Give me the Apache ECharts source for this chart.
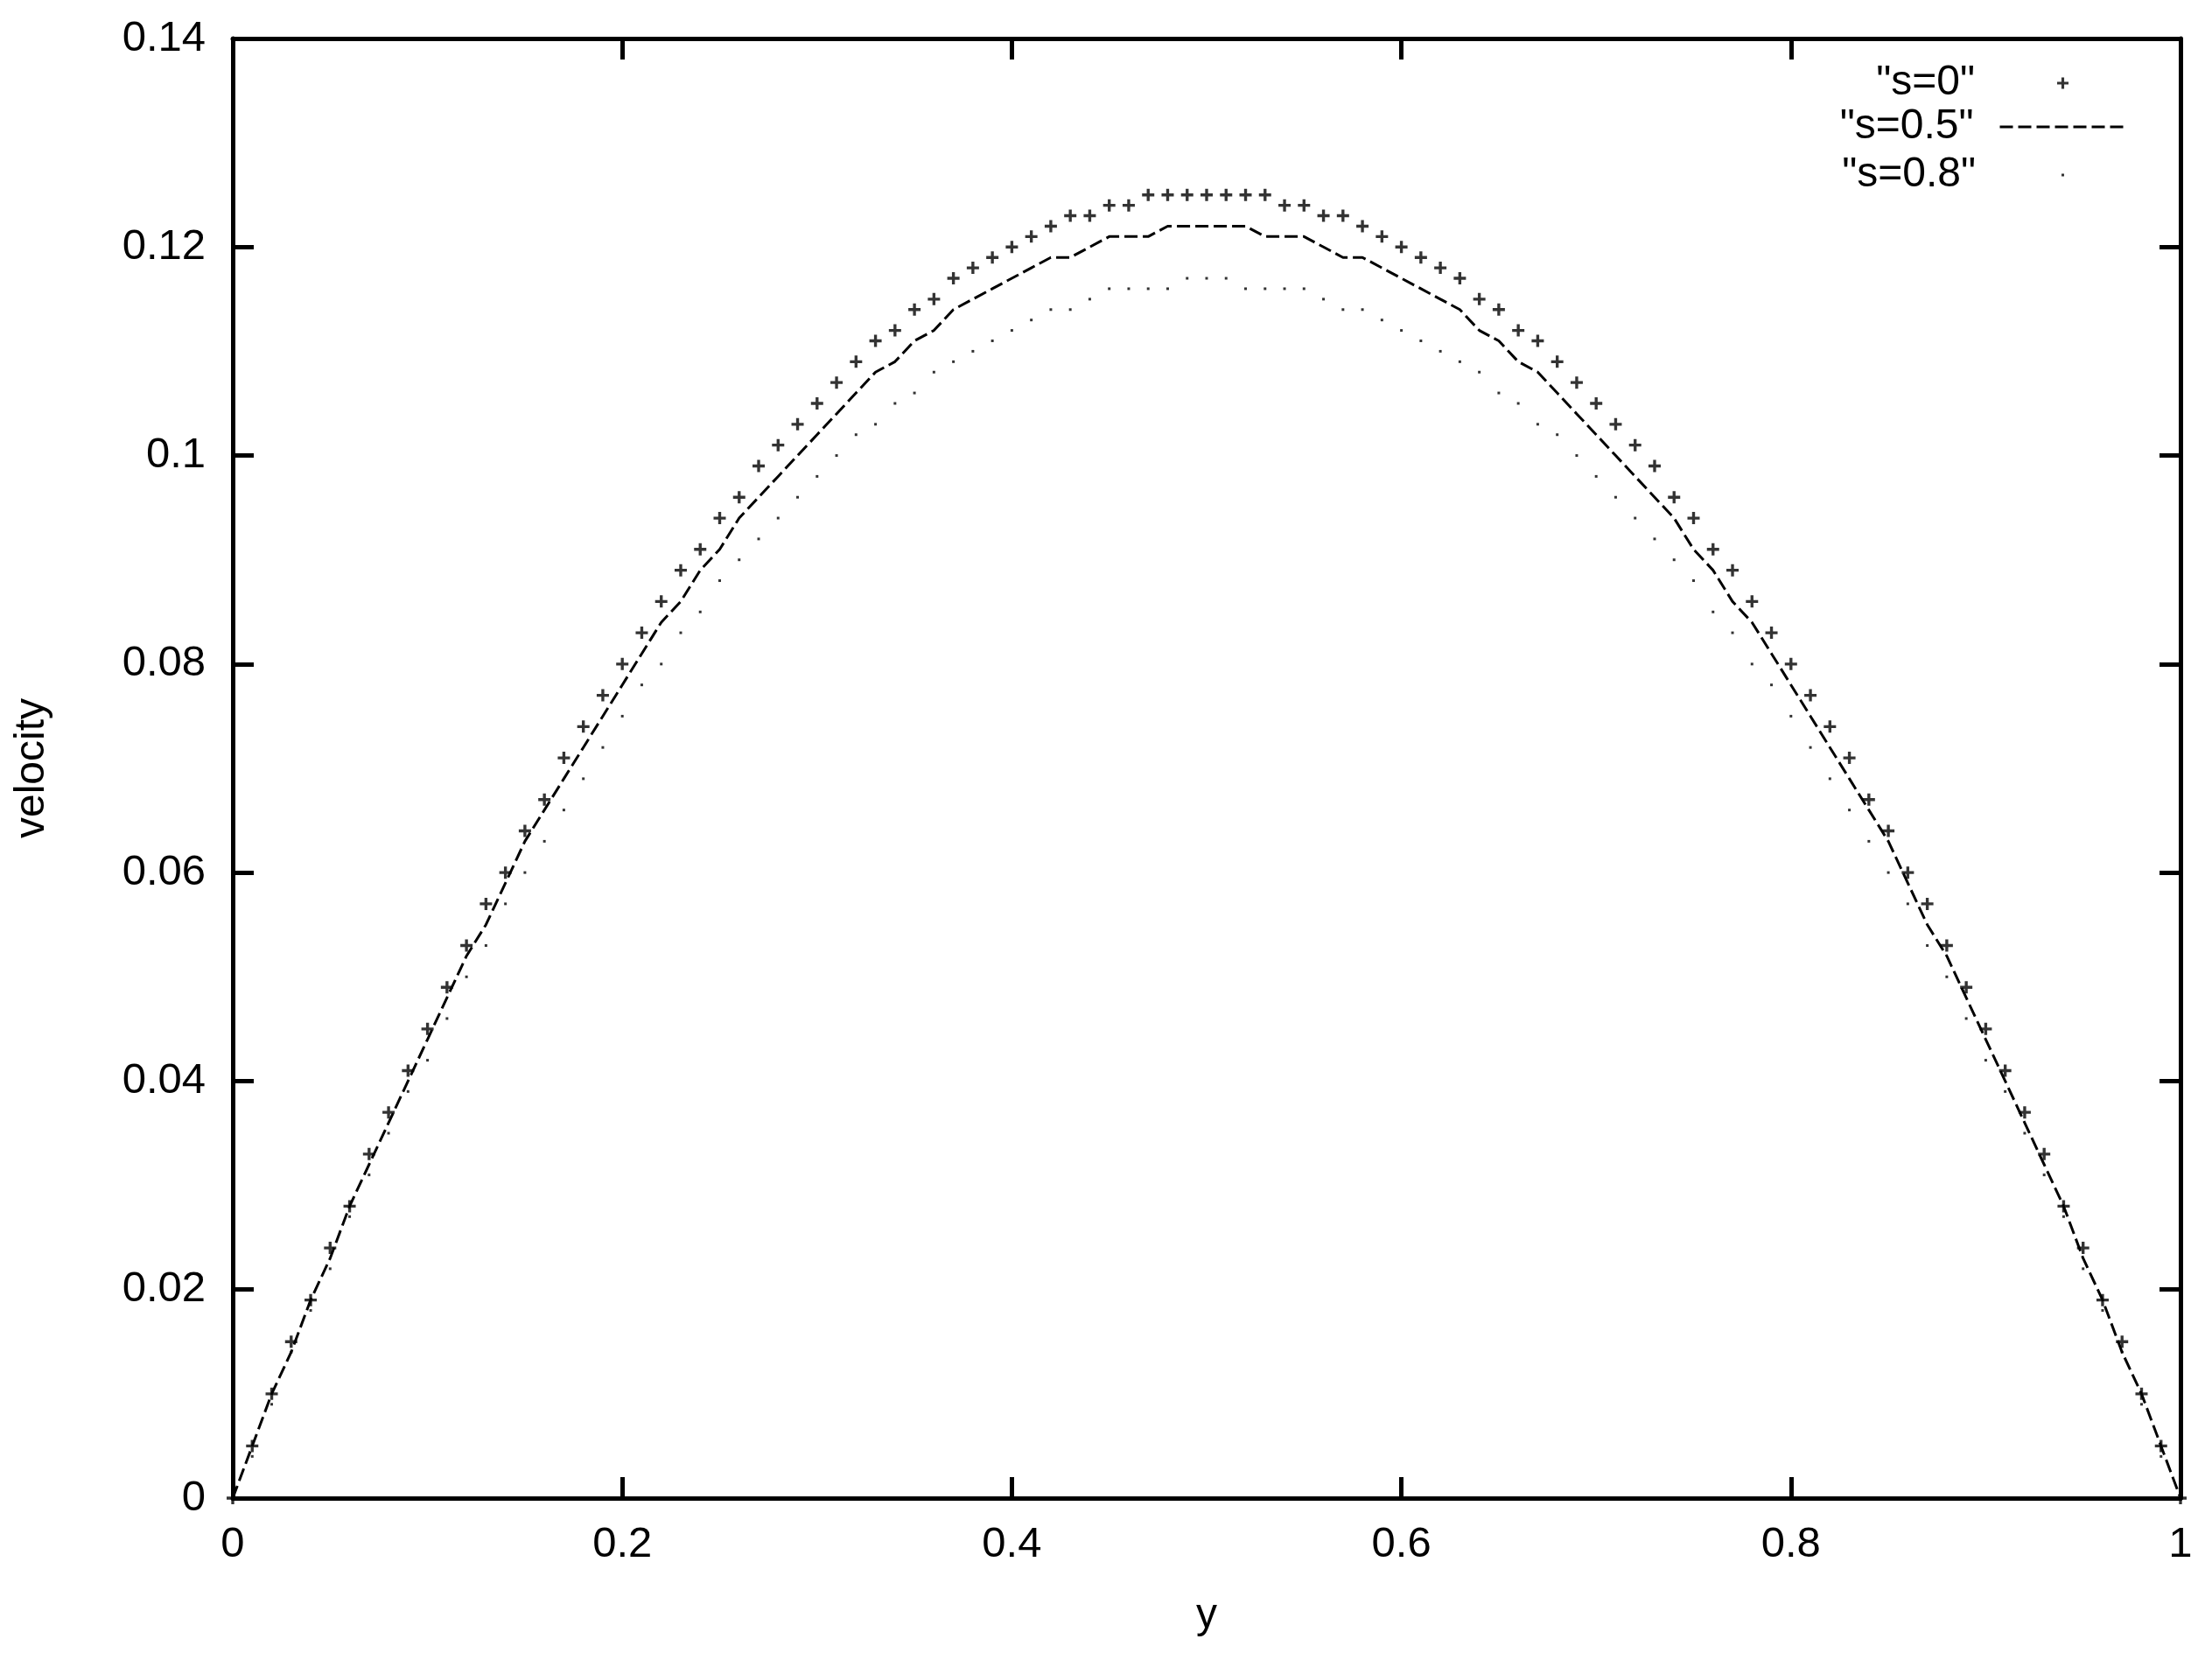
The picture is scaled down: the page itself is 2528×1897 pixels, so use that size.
<!DOCTYPE html>
<html>
<head>
<meta charset="utf-8">
<style>
  html, body { margin: 0; padding: 0; background: #ffffff; }
  #chart { width: 2528px; height: 1897px; }
</style>
<script src="https://cdn.jsdelivr.net/npm/echarts@6/dist/echarts.min.js"></script>
</head>
<body>
<div id="chart"></div>
<script>
// ---- data ----
const yPositions = [
  0.00,0.01,0.02,0.03,0.04,0.05,0.06,0.07,0.08,0.09,
  0.10,0.11,0.12,0.13,0.14,0.15,0.16,0.17,0.18,0.19,
  0.20,0.21,0.22,0.23,0.24,0.25,0.26,0.27,0.28,0.29,
  0.30,0.31,0.32,0.33,0.34,0.35,0.36,0.37,0.38,0.39,
  0.40,0.41,0.42,0.43,0.44,0.45,0.46,0.47,0.48,0.49,
  0.50,0.51,0.52,0.53,0.54,0.55,0.56,0.57,0.58,0.59,
  0.60,0.61,0.62,0.63,0.64,0.65,0.66,0.67,0.68,0.69,
  0.70,0.71,0.72,0.73,0.74,0.75,0.76,0.77,0.78,0.79,
  0.80,0.81,0.82,0.83,0.84,0.85,0.86,0.87,0.88,0.89,
  0.90,0.91,0.92,0.93,0.94,0.95,0.96,0.97,0.98,0.99,
  1.00
];

const velocityS0 = [
  0,
  0.005,0.010,0.015,0.019,0.024,0.028,0.033,0.037,0.041,0.045,
  0.049,0.053,0.057,0.060,0.064,0.067,0.071,0.074,0.077,0.080,
  0.083,0.086,0.089,0.091,0.094,0.096,0.099,0.101,0.103,0.105,
  0.107,0.109,0.111,0.112,0.114,0.115,0.117,0.118,0.119,0.120,
  0.121,0.122,0.123,0.123,0.124,0.124,0.125,0.125,0.125,0.125,
  0.125,0.125,0.125,0.124,0.124,0.123,0.123,0.122,0.121,0.120,
  0.119,0.118,0.117,0.115,0.114,0.112,0.111,0.109,0.107,0.105,
  0.103,0.101,0.099,0.096,0.094,0.091,0.089,0.086,0.083,0.080,
  0.077,0.074,0.071,0.067,0.064,0.060,0.057,0.053,0.049,0.045,
  0.041,0.037,0.033,0.028,0.024,0.019,0.015,0.010,0.005,0
];

const velocityS05 = [
  0,
  0.005,0.010,0.014,0.019,0.023,0.028,0.032,0.036,0.040,0.044,
  0.048,0.052,0.055,0.059,0.063,0.066,0.069,0.072,0.075,0.078,
  0.081,0.084,0.086,0.089,0.091,0.094,0.096,0.098,0.100,0.102,
  0.104,0.106,0.108,0.109,0.111,0.112,0.114,0.115,0.116,0.117,
  0.118,0.119,0.119,0.120,0.121,0.121,0.121,0.122,0.122,0.122,
  0.122,0.122,0.121,0.121,0.121,0.120,0.119,0.119,0.118,0.117,
  0.116,0.115,0.114,0.112,0.111,0.109,0.108,0.106,0.104,0.102,
  0.100,0.098,0.096,0.094,0.091,0.089,0.086,0.084,0.081,0.078,
  0.075,0.072,0.069,0.066,0.063,0.059,0.055,0.052,0.048,0.044,
  0.040,0.036,0.032,0.028,0.023,0.019,0.014,0.010,0.005,0
];

const velocityS08 = [
  0,
  0.004,0.009,0.014,0.018,0.022,0.027,0.031,0.035,0.039,0.042,
  0.046,0.050,0.053,0.057,0.060,0.063,0.066,0.069,0.072,0.075,
  0.078,0.080,0.083,0.085,0.088,0.090,0.092,0.094,0.096,0.098,
  0.100,0.102,0.103,0.105,0.106,0.108,0.109,0.110,0.111,0.112,
  0.113,0.114,0.114,0.115,0.116,0.116,0.116,0.116,0.117,0.117,
  0.117,0.116,0.116,0.116,0.116,0.115,0.114,0.114,0.113,0.112,
  0.111,0.110,0.109,0.108,0.106,0.105,0.103,0.102,0.100,0.098,
  0.096,0.094,0.092,0.090,0.088,0.085,0.083,0.080,0.078,0.075,
  0.072,0.069,0.066,0.063,0.060,0.057,0.053,0.050,0.046,0.042,
  0.039,0.035,0.031,0.027,0.022,0.018,0.014,0.009,0.004,0
];

const seriesNames = ['"s=0"', '"s=0.5"', '"s=0.8"'];
const xAxisName = 'y';
const yAxisName = 'velocity';

// ---- chart ----
const FONT = 'Liberation Sans';
const plusPath = 'path://M3.8,0H6.2V3.8H10V6.2H6.2V10H3.8V6.2H0V3.8H3.8Z';
const pair = (vals) => yPositions.map((x, i) => [x, vals[i]]);

const axisLineStyle = () => ({ show: true, onZero: false, lineStyle: { color: '#000', width: 5 } });
const tickStyle = () => ({ show: true, inside: true, length: 24, lineStyle: { color: '#000', width: 5 } });
const labelStyle = { color: '#000', fontSize: 49, fontFamily: FONT };

const legendText = { color: '#000', fontSize: 48, fontFamily: FONT, lineHeight: 50 };

const chart = echarts.init(document.getElementById('chart'), null, { renderer: 'canvas' });
chart.setOption({
  animation: false,
  backgroundColor: '#ffffff',
  grid: { left: 266, right: 36, top: 44, bottom: 185, containLabel: false },
  legend: [
    {
      data: [{ name: seriesNames[0], icon: plusPath }],
      orient: 'vertical', align: 'right', padding: 0,
      right: 164, top: 65, itemWidth: 13, itemHeight: 13,
      selectedMode: false,
      textStyle: Object.assign({}, legendText, { padding: [10, 89, 0, 0] })
    },
    {
      data: [{ name: seriesNames[1] }],
      orient: 'vertical', align: 'right', padding: 0,
      right: 98, top: 112, itemWidth: 143, itemHeight: 14,
      selectedMode: false,
      itemStyle: { opacity: 0 },
      lineStyle: { color: '#000', width: 3, type: [15, 6] },
      textStyle: Object.assign({}, legendText, { padding: [16, 25, 0, 0] })
    },
    {
      data: [{ name: seriesNames[2], icon: 'rect' }],
      orient: 'vertical', align: 'right', padding: 0,
      right: 169, top: 170, itemWidth: 3, itemHeight: 3,
      selectedMode: false,
      textStyle: Object.assign({}, legendText, { padding: [10, 93, 0, 0] })
    }
  ],
  xAxis: [
    {
      type: 'value', position: 'bottom', min: 0, max: 1, interval: 0.2,
      axisLine: axisLineStyle(), axisTick: tickStyle(), splitLine: { show: false },
      axisLabel: Object.assign({ margin: 29 }, labelStyle),
      name: xAxisName, nameLocation: 'middle', nameGap: 111,
      nameTextStyle: { color: '#000', fontSize: 48, fontFamily: FONT }
    },
    {
      type: 'value', position: 'top', min: 0, max: 1, interval: 0.2,
      axisLine: axisLineStyle(), axisTick: tickStyle(), splitLine: { show: false },
      axisLabel: { show: false }
    }
  ],
  yAxis: [
    {
      type: 'value', position: 'left', min: 0, max: 0.14, interval: 0.02,
      axisLine: axisLineStyle(), axisTick: tickStyle(), splitLine: { show: false },
      axisLabel: Object.assign({ margin: 31, padding: [6, 0, 0, 0] }, labelStyle),
      name: yAxisName, nameLocation: 'middle', nameGap: 205, nameRotate: 90,
      nameTextStyle: { color: '#000', fontSize: 48, fontFamily: FONT }
    },
    {
      type: 'value', position: 'right', min: 0, max: 0.14, interval: 0.02,
      axisLine: axisLineStyle(), axisTick: tickStyle(), splitLine: { show: false },
      axisLabel: { show: false }
    }
  ],
  series: [
    {
      name: seriesNames[0], type: 'scatter', xAxisIndex: 0, yAxisIndex: 0,
      symbol: plusPath, symbolSize: 14, clip: false,
      itemStyle: { color: '#000' },
      data: pair(velocityS0), z: 3
    },
    {
      name: seriesNames[1], type: 'line', xAxisIndex: 0, yAxisIndex: 0,
      symbol: 'none', showSymbol: false,
      color: '#000',
      lineStyle: { color: '#000', width: 3, type: [15, 6] },
      data: pair(velocityS05), z: 2
    },
    {
      name: seriesNames[2], type: 'scatter', xAxisIndex: 0, yAxisIndex: 0,
      symbol: 'rect', symbolSize: 3, clip: false,
      itemStyle: { color: '#000' },
      data: pair(velocityS08), z: 2
    }
  ]
});
</script>
</body>
</html>
